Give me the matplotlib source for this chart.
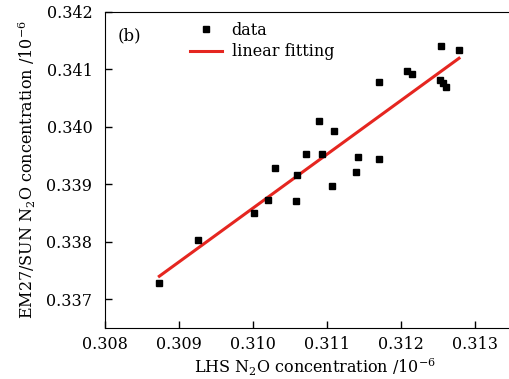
import matplotlib.pyplot as plt
import numpy as np

plt.rcParams['font.family'] = ['DejaVu Serif']
plt.rcParams['mathtext.default'] = 'regular'

# LHS vs EM27/SUN N2O (10^-6)
lhs = [0.308734, 0.309261, 0.310009, 0.310207, 0.310297, 0.310591, 0.310581,
       0.310712, 0.310926, 0.310888, 0.311091, 0.311068, 0.311423, 0.311388,
       0.311699, 0.311696, 0.312085, 0.312153, 0.312523, 0.312572, 0.312604,
       0.312541, 0.312784]
em27 = [0.337286, 0.338030, 0.338508, 0.338723, 0.339286, 0.339159, 0.338705,
        0.339525, 0.339525, 0.340101, 0.339921, 0.338972, 0.339473, 0.339216,
        0.340787, 0.339447, 0.340974, 0.340921, 0.340817, 0.340759, 0.340700,
        0.341410, 0.341340]
fit_x = [0.308734, 0.312784]
fit_y = [0.337401, 0.341195]

xticks = [0.308, 0.309, 0.310, 0.311, 0.312, 0.313]
yticks = [0.337, 0.338, 0.339, 0.340, 0.341, 0.342]

fig = plt.figure(figsize=(5.1, 3.79), dpi=100)
# axes box runs past the right edge of the picture, as in the original crop
ax = fig.add_axes([105/510, 1-328/379, 420/510, (328-12)/379])
ax.spines['right'].set_visible(False)

ax.plot(lhs, em27, 's', color='black', markersize=5, label='data', zorder=3)
ax.plot(fit_x, fit_y, '-', color='#e52620', lw=2.2, label='linear fitting', zorder=2)

ax.set_xlim(0.308, 0.308 + 420/74000)
ax.set_ylim(0.3365, 0.342)
ax.set_xticks(xticks)
ax.set_xticklabels(['%.3f' % v for v in xticks])
ax.set_yticks(yticks)
ax.set_yticklabels(['%.3f' % v for v in yticks])
ax.tick_params(direction='in', length=5, width=1, labelsize=11.5)
ax.tick_params(axis='x', pad=6)
ax.tick_params(axis='y', pad=9)

ax.set_xlabel('LHS N$_2$O concentration /10$^{-6}$', fontsize=11.5, labelpad=2)
ax.set_ylabel('EM27/SUN N$_2$O concentration /10$^{-6}$', fontsize=11.5, labelpad=6)

ax.text(0.03, 0.925, '(b)', transform=ax.transAxes, fontsize=12, va='center')
ax.legend(loc='upper left', bbox_to_anchor=(0.18, 1.0), frameon=False,
          fontsize=11.5, handlelength=2.0, handletextpad=0.6, labelspacing=0.3,
          borderaxespad=0.2)

fig.savefig('out.png', dpi=100)
